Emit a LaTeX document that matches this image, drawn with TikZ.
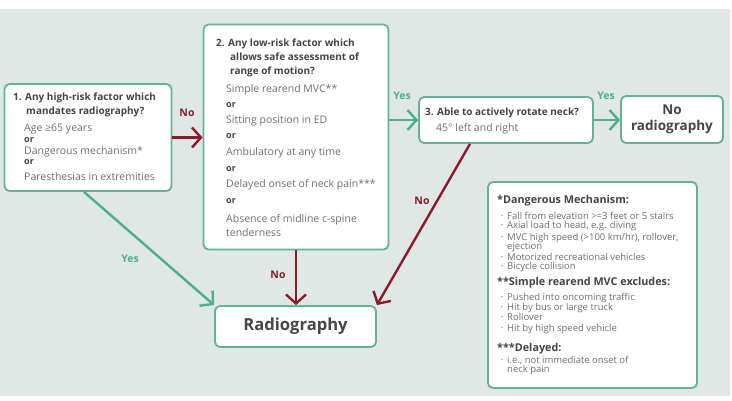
\documentclass[tikz,border=0pt]{standalone}
\usepackage{fontspec}
\setmainfont{Open Sans}
\usetikzlibrary{arrows.meta}
\definecolor{bg}{HTML}{DFE8E4}
\definecolor{bord}{HTML}{64B398}
\definecolor{grn}{HTML}{4FAE8B}
\definecolor{dred}{HTML}{8A1B2C}
\definecolor{txtg}{HTML}{707070}
\definecolor{txtd}{HTML}{454545}
\newcommand{\bl}{\llap{\textperiodcentered\hspace{4pt}}}
\tikzset{
 box/.style={draw=bord, line width=1.8pt, rounded corners=5pt, fill=white, inner sep=0pt},
 body/.style={anchor=base west, inner sep=0pt, text=txtg, font=\fontsize{10.5}{12}\selectfont},
 ttl/.style={anchor=base west, inner sep=0pt, text=txtd, font=\fontsize{10}{12}\selectfont\bfseries},
 orr/.style={anchor=base west, inner sep=0pt, text=txtd, font=\fontsize{9}{11}\selectfont\bfseries},
 fn/.style={anchor=base west, inner sep=0pt, text=txtg, font=\fontsize{9.5}{10}\selectfont},
 fnh/.style={anchor=base west, inner sep=0pt, text=txtd, font=\fontsize{10.8}{11}\selectfont\bfseries},
 ga/.style={draw=grn, line width=2.4pt, -{Straight Barb[length=9pt,width=20pt]}},
 ra/.style={draw=dred, line width=2.4pt, -{Straight Barb[length=9pt,width=20pt]}},
 lblg/.style={text=grn, inner sep=0pt, font=\fontsize{10.5}{13}\selectfont\bfseries},
 lblr/.style={text=dred, inner sep=0pt, font=\fontsize{10.5}{13}\selectfont\bfseries},
}
\begin{document}
\begin{tikzpicture}[x=1pt,y=-1pt]
\useasboundingbox (0,0) rectangle (732,400);
\fill[bg] (0,9) rectangle (730,396);

% boxes
\node[box, minimum width=167pt, minimum height=107pt] (b1) at (88,137.5) {};
\node[box, minimum width=185pt, minimum height=225pt] (b2) at (296,137) {};
\node[box, minimum width=174pt, minimum height=46pt] (b3) at (506,120) {};
\node[box, minimum width=102pt, minimum height=47pt] (b4) at (672,119.5) {};
\node[box, minimum width=161pt, minimum height=41pt] (rad) at (295.5,326.5) {};
\node[box, minimum width=209pt, minimum height=206pt] (fnb) at (592.5,285) {};

% box 1 text
\node[ttl] (t1a) at (13,100) {1. Any high-risk factor which};
\node[ttl] (t1b) at (26,114) {mandates radiography?};
\node[body] (t1c) at (24,131) {Age ≥65 years};
\node[orr] (t1d) at (24,142.5) {or};
\node[body] (t1e) at (24,154) {Dangerous mechanism*};
\node[orr] (t1f) at (24,164.5) {or};
\node[body] (t1g) at (24,180) {Paresthesias in extremities};

% box 2 text
\node[ttl] (t2a) at (216,46) {2. Any low-risk factor which};
\node[ttl] (t2b) at (230,60) {allows safe assessment of};
\node[ttl] (t2c) at (230,74) {range of motion?};
\node[body] (t2d) at (226,92) {Simple rearend MVC**};
\node[orr] (t2e) at (226,107) {or};
\node[body] (t2f) at (226,123) {Sitting position in ED};
\node[orr] (t2g) at (226,138) {or};
\node[body] (t2h) at (226,155) {Ambulatory at any time};
\node[orr] (t2i) at (226,171) {or};
\node[body] (t2j) at (226,187) {Delayed onset of neck pain***};
\node[orr] (t2k) at (226,203) {or};
\node[body] (t2l) at (226,222) {Absence of midline c-spine};
\node[body] (t2m) at (226,236) {tenderness};

% box 3 text
\node[ttl] (t3a) at (425,115) {3. Able to actively rotate neck?};
\node[body] (t3b) at (436,131) {45° left and right};

% box 4 text
\node[inner sep=0pt, text=txtd, align=center, font=\fontsize{13.5}{16}\selectfont\bfseries] (t4) at (b4) {No\\radiography};

% radiography
\node[inner sep=0pt, text=txtd, font=\fontsize{16.6}{18}\selectfont\bfseries] (t5) at (rad) {Radiography};

% footnotes
\node[fnh] (f1) at (497,203) {*Dangerous Mechanism:};
\foreach \yy/\tt [count=\i] in {219/{\bl Fall from elevation >=3 feet or 5 stairs},228/{\bl Axial load to head, e.g. diving},240/{\bl MVC high speed (>100 km/hr), rollover,},249/{ejection},260/{\bl Motorized recreational vehicles},269/{\bl Bicycle collision}}
  \node[fn] (fa\i) at (507,\yy) {\tt};
\node[fnh] (f2) at (497,285) {**Simple rearend MVC excludes:};
\foreach \yy/\tt [count=\i] in {300/{Pushed into oncoming traffic},310/{Hit by bus or large truck},320/{Rollover},331/{Hit by high speed vehicle}}
  \node[fn] (fb\i) at (507,\yy) {\bl\tt};
\node[fnh] (f3) at (497,351) {***Delayed:};
\node[fn] (fc1) at (507,363) {\bl i.e., not immediate onset of};
\node[fn] (fc2) at (507,372) {neck pain};

% connectors
\draw[ra] (b1.east) -- (b1.east -| b2.west);
\draw[ga] (b3.west -| b2.east) -- (b3.west);
\draw[ga] (b3.east) -- (b3.east -| b4.west);
\draw[ga] ([xshift=-4pt]b1.south) -- (rad.north west);
\draw[ra] (b2.south) -- (b2.south |- rad.north);
\draw[ra] ([xshift=-36pt]b3.south) -- (rad.north east);

% labels
\node[lblr] (n1) at (187,113) {No};
\node[lblg] (y1) at (402,96) {Yes};
\node[lblg] (y2) at (606,96) {Yes};
\node[lblg] (y3) at (130,259) {Yes};
\node[lblr] (n2) at (278,275) {No};
\node[lblr] (n3) at (422,201) {No};
\end{tikzpicture}
\end{document}
